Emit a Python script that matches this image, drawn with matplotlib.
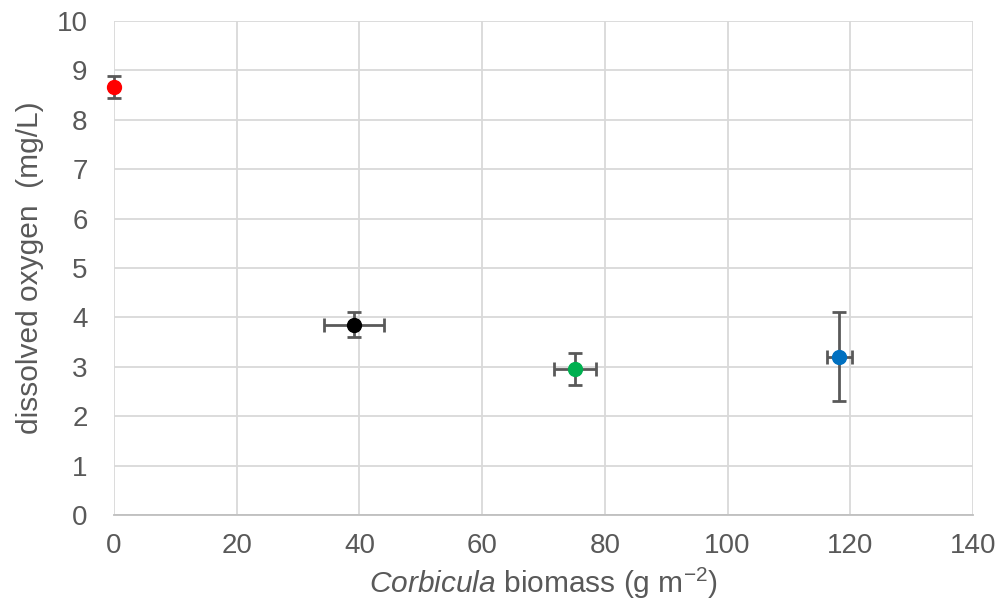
import matplotlib
matplotlib.use("Agg")
import matplotlib.pyplot as plt

plt.rcParams["font.family"] = ["Liberation Sans", "DejaVu Sans"]
plt.rcParams["mathtext.fontset"] = "custom"
plt.rcParams["mathtext.rm"] = "Liberation Sans"
plt.rcParams["mathtext.it"] = "Liberation Sans:italic"

biomass = [0, 39.1, 75.1, 118.2]
biomass_err = [0, 4.9, 3.4, 2.0]
oxygen = [8.67, 3.85, 2.96, 3.20]
oxygen_err = [0.22, 0.25, 0.32, 0.9]
colors = ["#FF0000", "#000000", "#00B050", "#0070C0"]

grey = "#595959"

fig = plt.figure(figsize=(10.03, 6.12), dpi=100)
ax = fig.add_axes([114 / 1003, 1 - 515 / 612, (973 - 114) / 1003, (515 - 21) / 612])

for x, xe, y, ye, c in zip(biomass, biomass_err, oxygen, oxygen_err, colors):
    ax.errorbar(x, y, xerr=xe if xe > 0 else None, yerr=ye, fmt="o", color=c,
                ecolor=grey, elinewidth=2, capsize=5, capthick=2,
                markersize=10, zorder=3, clip_on=False)

ax.set_xlim(0, 140)
ax.set_ylim(0, 10)
ax.set_xticks(range(0, 141, 20))
ax.set_yticks(range(0, 11))
ax.grid(True, color="#D9D9D9", linewidth=1.3)
ax.set_axisbelow(True)
for s in ["top", "right", "left"]:
    ax.spines[s].set_visible(False)
ax.spines["bottom"].set_color("#BFBFBF")
ax.spines["bottom"].set_linewidth(1.3)
ax.tick_params(length=0, labelsize=20, labelcolor=grey)
ax.tick_params(axis="y", pad=19)
ax.tick_params(axis="x", pad=13)

ax.set_xlabel(r"$\mathit{Corbicula}$ biomass (g m$^{\mathrm{-2}}$)", fontsize=21.5, color=grey, labelpad=5)
ax.set_ylabel("dissolved oxygen  (mg/L)", fontsize=21.5, color=grey, labelpad=9)

fig.savefig("out.png", dpi=100)
